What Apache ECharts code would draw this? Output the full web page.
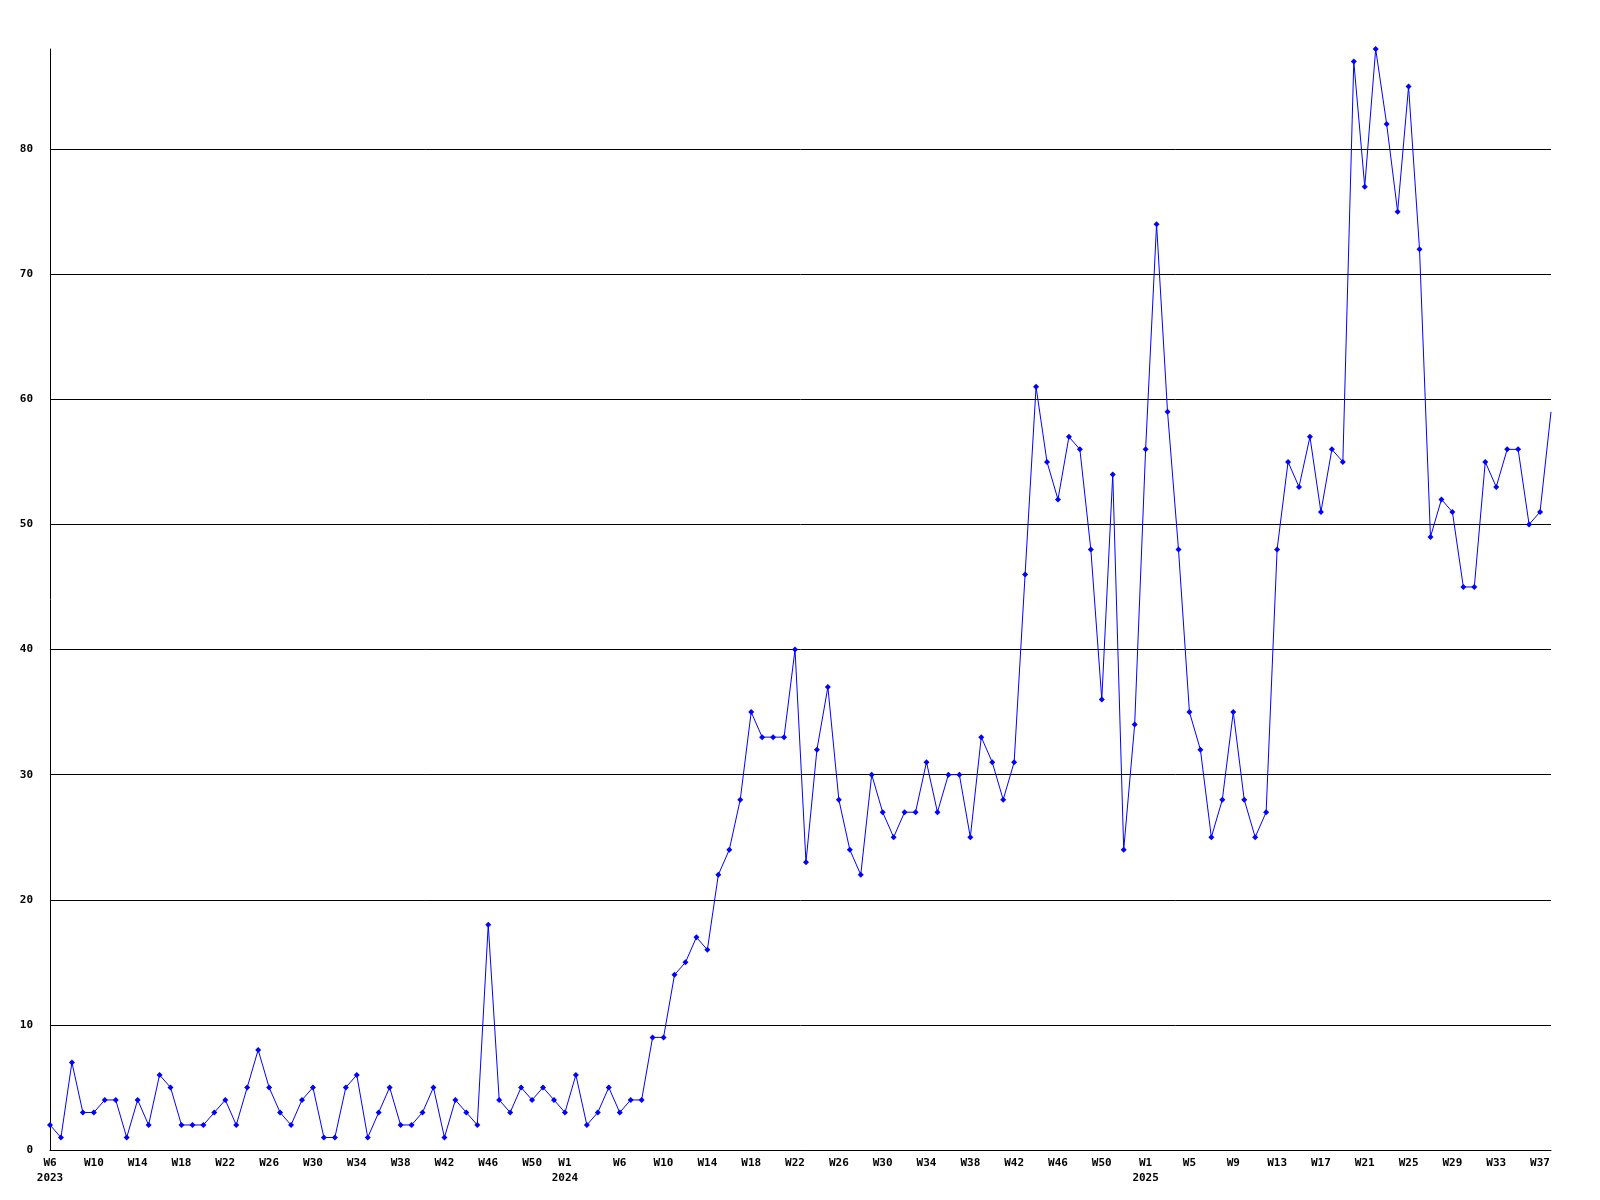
<!DOCTYPE html>
<html>
<head>
<meta charset="utf-8">
<script src="https://cdn.jsdelivr.net/npm/echarts@6/dist/echarts.min.js"></script>
<style>
  html, body { margin: 0; padding: 0; background: #ffffff; }
  #chart { width: 1600px; height: 1200px; }
</style>
</head>
<body>
<div id="chart"></div>
<script>
// Week categories (one point per week)
const weeks2023 = ["W6","W7","W8","W9","W10","W11","W12","W13","W14","W15","W16","W17","W18","W19","W20","W21","W22","W23","W24","W25","W26","W27","W28","W29","W30","W31","W32","W33","W34","W35","W36","W37","W38","W39","W40","W41","W42","W43","W44","W45","W46","W47","W48","W49","W50","W51","W52"];
const values2023 = [2,1,7,3,3,4,4,1,4,2,6,5,2,2,2,3,4,2,5,8,5,3,2,4,5,1,1,5,6,1,3,5,2,2,3,5,1,4,3,2,18,4,3,5,4,5,4];

const weeks2024 = ["W1","W2","W3","W4","W5","W6","W7","W8","W9","W10","W11","W12","W13","W14","W15","W16","W17","W18","W19","W20","W21","W22","W23","W24","W25","W26","W27","W28","W29","W30","W31","W32","W33","W34","W35","W36","W37","W38","W39","W40","W41","W42","W43","W44","W45","W46","W47","W48","W49","W50","W51","W52","W53"];
const values2024 = [3,6,2,3,5,3,4,4,9,9,14,15,17,16,22,24,28,35,33,33,33,40,23,32,37,28,24,22,30,27,25,27,27,31,27,30,30,25,33,31,28,31,46,61,55,52,57,56,48,36,54,24,34];

const weeks2025 = ["W1","W2","W3","W4","W5","W6","W7","W8","W9","W10","W11","W12","W13","W14","W15","W16","W17","W18","W19","W20","W21","W22","W23","W24","W25","W26","W27","W28","W29","W30","W31","W32","W33","W34","W35","W36","W37","W38"];
const values2025 = [56,74,59,48,35,32,25,28,35,28,25,27,48,55,53,57,51,56,55,87,77,88,82,75,85,72,49,52,51,45,45,55,53,56,56,50,51,59];

// Tick labels shown on the x axis
const tickLabels2023 = ["W6","W10","W14","W18","W22","W26","W30","W34","W38","W42","W46","W50"];
const tickLabels2024 = ["W1","W6","W10","W14","W18","W22","W26","W30","W34","W38","W42","W46","W50"];
const tickLabels2025 = ["W1","W5","W9","W13","W17","W21","W25","W29","W33","W37"];

const yTicks = [0,10,20,30,40,50,60,70,80];

// Build category list & data
const categories = [];
const values = [];
const labelMap = {};
function addYear(year, weeks, vals, ticks) {
  weeks.forEach(function (w, i) {
    const key = year + "-" + w;
    const idx = categories.length;
    categories.push(key);
    values.push(vals[i]);
    const t = ticks.indexOf(w);
    if (t >= 0) {
      labelMap[idx] = t === 0 ? (w + "\n" + year) : w;
    }
  });
}
addYear(2023, weeks2023, values2023, tickLabels2023);
addYear(2024, weeks2024, values2024, tickLabels2024);
addYear(2025, weeks2025, values2025, tickLabels2025);

const seriesData = values.map(function (v, i) {
  if (i === values.length - 1) return { value: v, symbol: 'none' };
  return v;
});

const FONT = '"DejaVu Sans Mono", "Liberation Mono", monospace';

const chart = echarts.init(document.getElementById('chart'), null, { renderer: 'canvas' });
chart.setOption({
  animation: false,
  backgroundColor: '#ffffff',
  grid: { left: 50, right: 49, top: 49, bottom: 50, containLabel: false },
  xAxis: {
    type: 'category',
    data: categories,
    boundaryGap: false,
    axisLine: { show: true, lineStyle: { color: '#000000', width: 1 } },
    axisTick: { show: false },
    splitLine: { show: false },
    axisLabel: {
      interval: function (index) { return labelMap[index] !== undefined; },
      formatter: function (value, index) { return labelMap[index] || ''; },
      color: '#000000',
      fontFamily: FONT,
      fontWeight: 'bold',
      fontSize: 11,
      lineHeight: 15,
      margin: 6,
      align: 'center',
      hideOverlap: false
    }
  },
  yAxis: {
    type: 'value',
    min: 0,
    max: 88,
    interval: 10,
    axisLine: { show: true, lineStyle: { color: '#000000', width: 1 } },
    axisTick: { show: false },
    splitLine: { show: true, showMaxLine: false, lineStyle: { color: '#000000', width: 1 } },
    axisLabel: {
      showMaxLabel: false,
      color: '#000000',
      fontFamily: FONT,
      fontWeight: 'bold',
      fontSize: 11,
      margin: 17,
      formatter: function (v) { return yTicks.indexOf(v) >= 0 ? String(v) : ''; }
    }
  },
  series: [{
    type: 'line',
    data: seriesData,
    symbol: 'diamond',
    symbolSize: 6,
    showAllSymbol: true,
    lineStyle: { color: '#0000ff', width: 1 },
    itemStyle: { color: '#0000ff' },
    emphasis: { disabled: true }
  }]
});
</script>
</body>
</html>
